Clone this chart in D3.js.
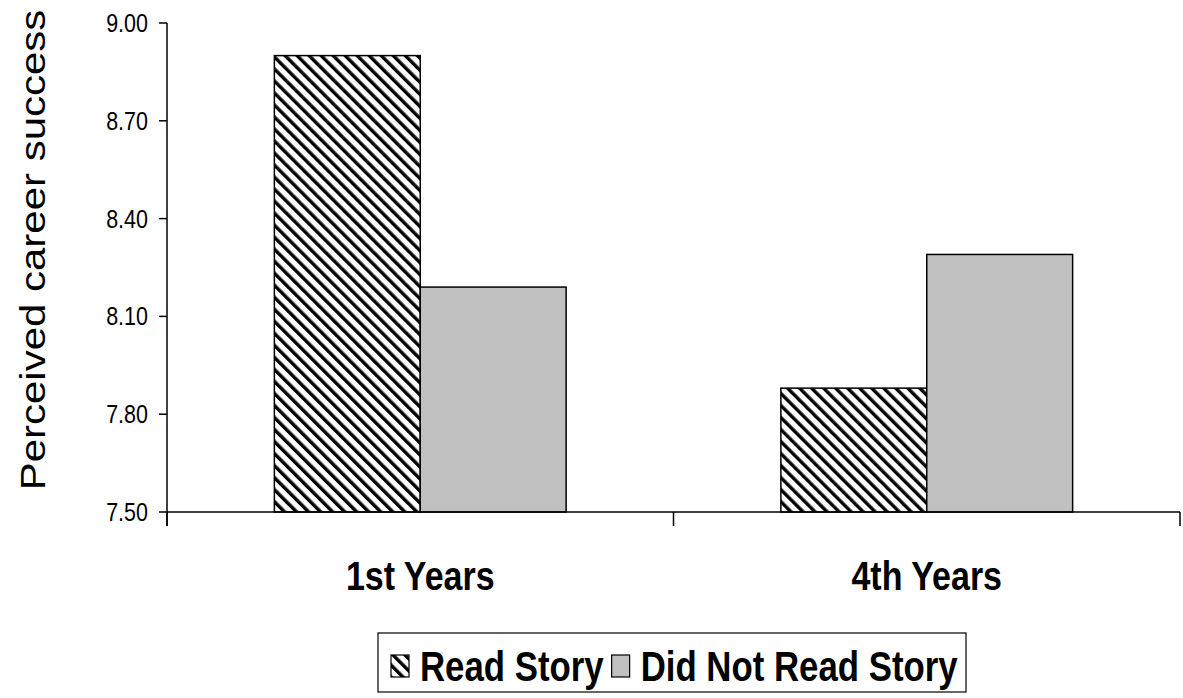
<!DOCTYPE html>
<html>
<head>
<meta charset="utf-8">
<script src="https://cdn.jsdelivr.net/npm/d3@7"></script>
<style>
  html, body { margin: 0; padding: 0; background: #fff; }
  svg { display: block; }
  text { font-family: "Liberation Sans", Arial, sans-serif; fill: #000; }
</style>
</head>
<body>
<svg id="chart" width="1183" height="698"></svg>
<script>
const categories = ["1st Years", "4th Years"];
const seriesNames = ["Read Story", "Did Not Read Story"];
const readStory = [8.90, 7.88];
const didNotRead = [8.19, 8.29];
const yTicks = [7.50, 7.80, 8.10, 8.40, 8.70, 9.00];
const yTitle = "Perceived career success";

(function () {
const svg = d3.select("#chart");
const STRETCH = 1.2;

const defs = svg.append("defs");
const pat = defs.append("pattern")
  .attr("id", "hatch")
  .attr("patternUnits", "userSpaceOnUse")
  .attr("width", 8.5).attr("height", 8.5)
  .attr("patternTransform", "rotate(-45)");
pat.append("rect").attr("width", 8.5).attr("height", 8.5).attr("fill", "#fff");
pat.append("rect").attr("x", 0).attr("y", 0).attr("width", 3.4).attr("height", 8.5).attr("fill", "#000");

const fills = { "Read Story": "url(#hatch)", "Did Not Read Story": "#c0c0c0" };

const mLeft = 167, mRight = 1180, mTop = 23, mBottom = 512;

const y = d3.scaleLinear().domain([7.5, 9.0]).range([mBottom, mTop]);
const x0 = d3.scaleBand().domain(categories).range([mLeft, mRight]).padding(0);
const x1 = d3.scaleBand().domain(seriesNames).range([0, x0.bandwidth()])
  .paddingInner(0).paddingOuter(0.736);

const data = categories.map((c, i) => ({
  cat: c,
  vals: [
    { s: seriesNames[0], v: readStory[i] },
    { s: seriesNames[1], v: didNotRead[i] }
  ]
}));

// Bars
const g = svg.append("g");
g.selectAll("g.cat").data(data).join("g")
  .attr("class", "cat")
  .attr("transform", d => `translate(${x0(d.cat)},0)`)
  .selectAll("rect").data(d => d.vals).join("rect")
  .attr("x", d => x1(d.s))
  .attr("width", x1.bandwidth())
  .attr("y", d => y(d.v))
  .attr("height", d => y(7.5) - y(d.v))
  .attr("fill", d => fills[d.s])
  .attr("stroke", "#000")
  .attr("stroke-width", 1.5);

// Y axis
const yAxisG = svg.append("g");
yAxisG.append("line")
  .attr("x1", mLeft).attr("x2", mLeft)
  .attr("y1", y(9.0)).attr("y2", mBottom + 14)
  .attr("stroke", "#000").attr("stroke-width", 1.5);
yAxisG.selectAll("line.tick").data(yTicks).join("line")
  .attr("class", "tick")
  .attr("x1", mLeft - 8).attr("x2", mLeft)
  .attr("y1", d => y(d)).attr("y2", d => y(d))
  .attr("stroke", "#000").attr("stroke-width", 1.5);
yAxisG.selectAll("text").data(yTicks).join("text")
  .attr("text-anchor", "end")
  .attr("font-size", 21.5)
  .attr("transform", d => `translate(148,${y(d) + 9}) scale(1,${STRETCH})`)
  .text(d => d3.format(".2f")(d));

// X axis
const xAxisG = svg.append("g");
xAxisG.append("line")
  .attr("x1", mLeft).attr("x2", mRight)
  .attr("y1", mBottom).attr("y2", mBottom)
  .attr("stroke", "#000").attr("stroke-width", 1.5);
const edges = categories.map(c => x0(c) + x0.bandwidth()).concat([x0(categories[0])]);
xAxisG.selectAll("line.tick").data(edges).join("line")
  .attr("class", "tick")
  .attr("x1", d => d).attr("x2", d => d)
  .attr("y1", mBottom).attr("y2", mBottom + 14)
  .attr("stroke", "#000").attr("stroke-width", 1.5);
xAxisG.selectAll("text").data(categories).join("text")
  .attr("text-anchor", "middle")
  .attr("font-size", 34)
  .attr("font-weight", "bold")
  .attr("transform", d => `translate(${x0(d) + x0.bandwidth() / 2},590) scale(1,${STRETCH})`)
  .text(d => d);

// Y title
svg.append("text")
  .attr("text-anchor", "middle")
  .attr("font-size", 35)
  .attr("transform", `translate(45,250) rotate(-90) scale(${STRETCH},1)`)
  .text(yTitle);

// Legend
const lg = svg.append("g");
lg.append("rect")
  .attr("x", 378).attr("y", 633).attr("width", 588).attr("height", 59)
  .attr("fill", "#fff").attr("stroke", "#000").attr("stroke-width", 1.2);
let lx = 391;
seriesNames.forEach((s, i) => {
  lg.append("rect")
    .attr("x", lx).attr("y", 655).attr("width", 18).attr("height", 22)
    .attr("fill", fills[s]).attr("stroke", "#000").attr("stroke-width", 1.2);
  lx += 18 + 11;
  const t = lg.append("text")
    .attr("font-size", 34.8)
    .attr("font-weight", "bold")
    .attr("transform", `translate(${lx},681) scale(1,${STRETCH})`)
    .text(s);
  lx += t.node().getComputedTextLength() + 8;
});
})();
</script>
</body>
</html>
